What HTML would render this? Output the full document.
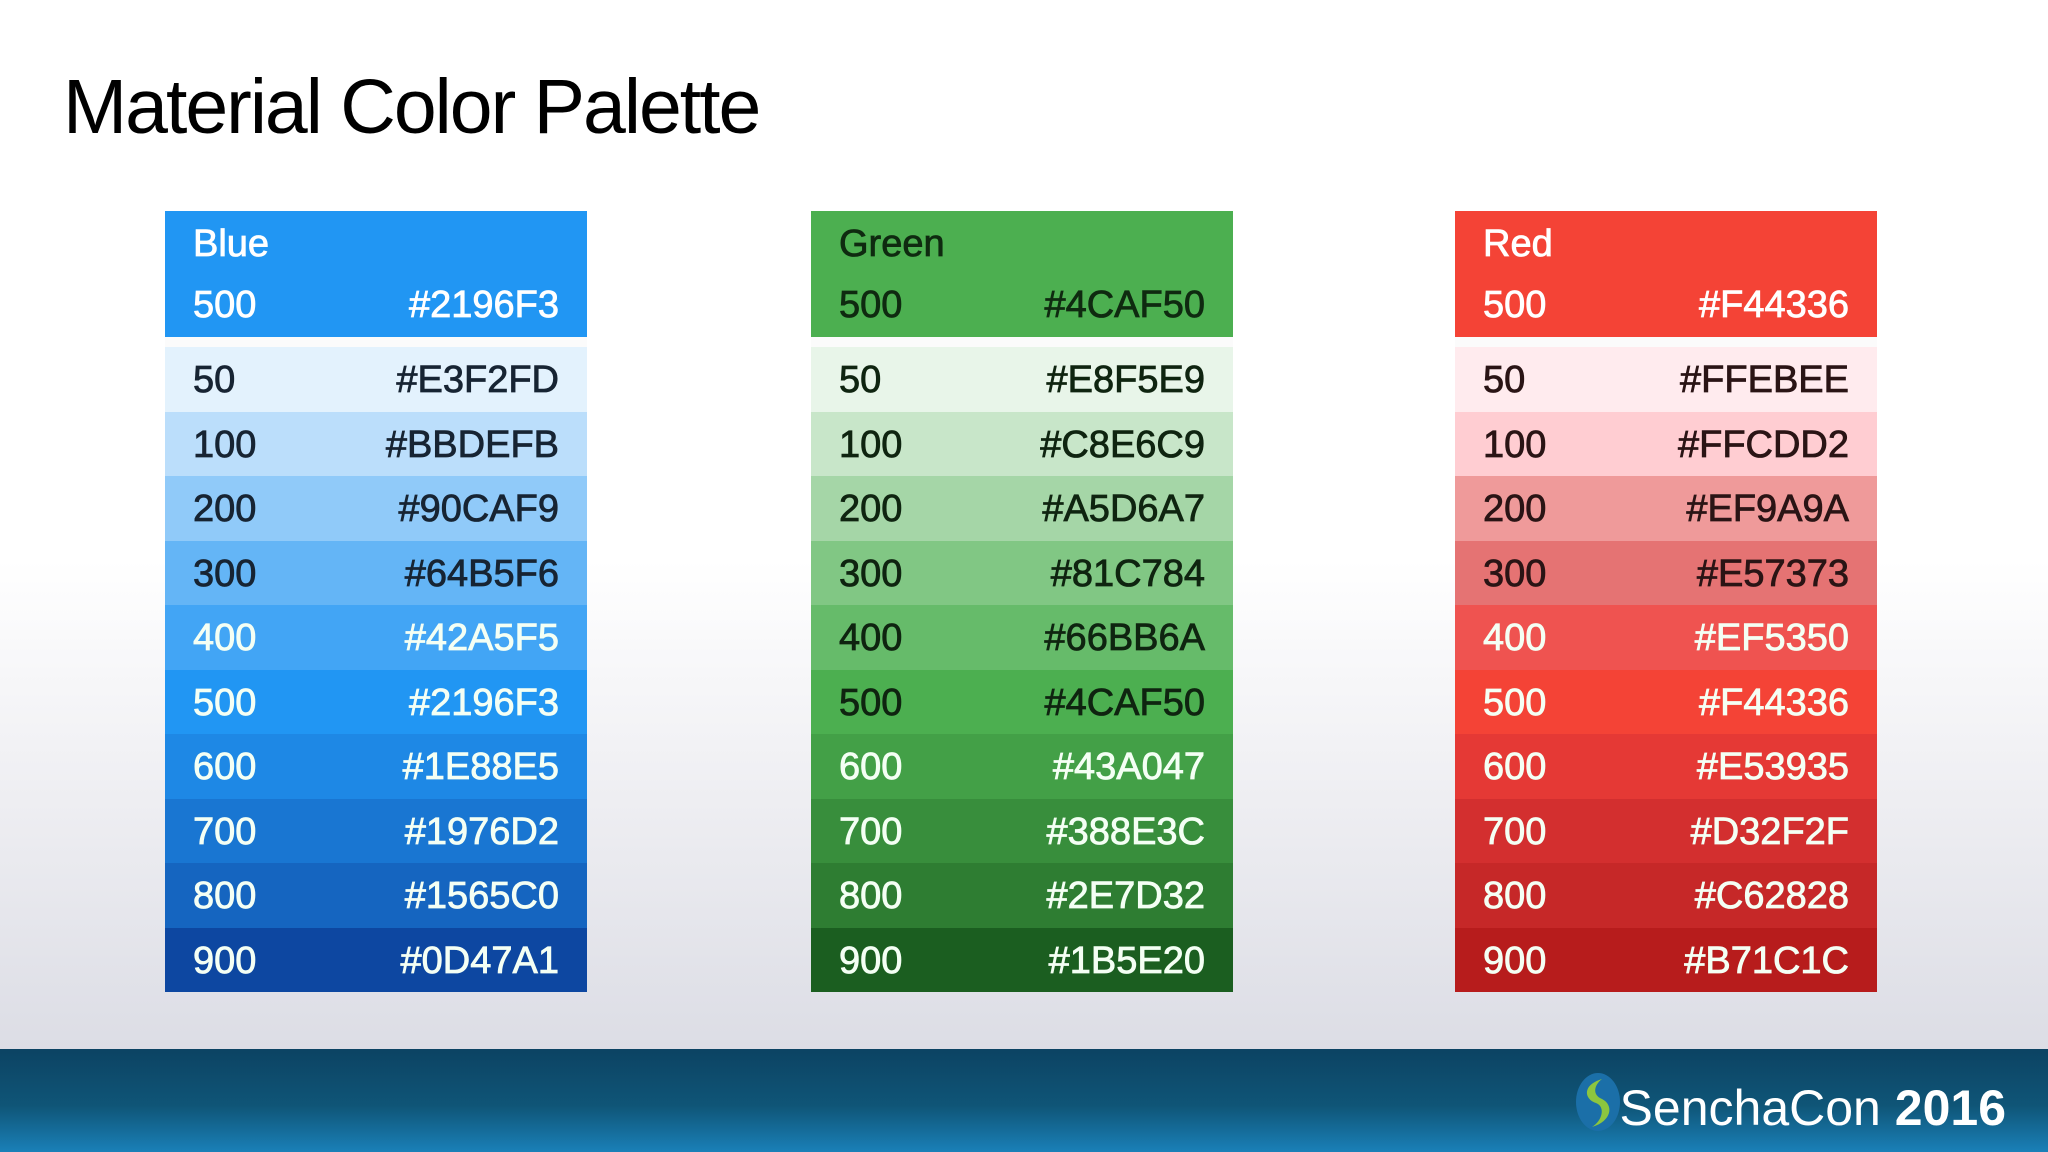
<!DOCTYPE html>
<html><head><meta charset="utf-8">
<style>
html,body{margin:0;padding:0;}
body{width:2048px;height:1152px;position:relative;overflow:hidden;
background:linear-gradient(180deg,#ffffff 0px,#ffffff 560px,#eeeef2 800px,#dcdde5 1049px);
font-family:"Liberation Sans",sans-serif;}
#title{position:absolute;left:63px;top:63px;font-size:77px;color:#000;letter-spacing:-2px;white-space:nowrap;}
.panel{position:absolute;top:211px;width:422px;}
.hdr{height:126px;position:relative;}
.gap{height:10px;background:#fbfbfb;}
.row{height:64.5px;position:relative;}
.t{position:absolute;font-size:38px;white-space:nowrap;-webkit-text-stroke:0.8px currentColor;}
.l{left:28px;}
.r{right:28px;}
#footer{position:absolute;left:0;top:1049px;width:2048px;height:103px;
background:linear-gradient(180deg,#0c4363 0%,#0f5577 55%,#1a80b8 100%);}
#brand{position:absolute;right:42px;top:30px;font-size:50px;color:#fff;white-space:nowrap;}
#logo{position:absolute;left:1572px;top:22px;}
</style></head>
<body>
<div id="title">Material Color Palette</div>
<div id="panels"></div>
<div id="footer">
<svg id="logo" width="52" height="62"><ellipse cx="26" cy="31" rx="22" ry="29" fill="#1b6fa8"/><path d="M30 8 C10 14 12 28 24 32 C34 36 30 50 20 56 C40 50 42 34 30 28 C20 24 22 14 30 8Z" fill="#8cc63f"/></svg>
<div id="brand"><span style="font-weight:300">SenchaCon</span> <b>2016</b></div>
</div>
<script>
const shades=["50","100","200","300","400","500","600","700","800","900"];
const blueHex=["#E3F2FD","#BBDEFB","#90CAF9","#64B5F6","#42A5F5","#2196F3","#1E88E5","#1976D2","#1565C0","#0D47A1"];
const greenHex=["#E8F5E9","#C8E6C9","#A5D6A7","#81C784","#66BB6A","#4CAF50","#43A047","#388E3C","#2E7D32","#1B5E20"];
const redHex=["#FFEBEE","#FFCDD2","#EF9A9A","#E57373","#EF5350","#F44336","#E53935","#D32F2F","#C62828","#B71C1C"];
const blueDarkUntil=4, greenDarkUntil=6, redDarkUntil=4;
const panels=[
 {name:"Blue",hex:blueHex,dark:blueDarkUntil,left:165,hdrText:"#fff",darkText:"#172433"},
 {name:"Green",hex:greenHex,dark:greenDarkUntil,left:811,hdrText:"#0f2a10",darkText:"#0f2410"},
 {name:"Red",hex:redHex,dark:redDarkUntil,left:1455,hdrText:"#fff",darkText:"#2a1415"}
];
const root=document.getElementById('panels');
panels.forEach(p=>{
 const pn=document.createElement('div');
 pn.className='panel';pn.style.left=p.left+'px';
 
 
 const h=document.createElement('div');h.className='hdr';h.style.background=p.hex[5];
 
 
 h.innerHTML='<div class="t l" style="top:12px;color:'+p.hdrText+'">'+p.name+'</div>'+
  '<div class="t l" style="top:73px;color:'+p.hdrText+'">500</div>'+
  '<div class="t r" style="top:73px;color:'+p.hdrText+'">'+p.hex[5]+'</div>';
 pn.appendChild(h);
 const g=document.createElement('div');g.className='gap';pn.appendChild(g);
 shades.forEach((s,i)=>{
  const r=document.createElement('div');r.className='row';r.style.background=p.hex[i];
  
  
  const c=i<p.dark?p.darkText:'#f4fff4';
  r.innerHTML='<div class="t l" style="top:12px;color:'+c+'">'+s+'</div><div class="t r" style="top:12px;color:'+c+'">'+p.hex[i]+'</div>';
  pn.appendChild(r);
 });
 root.appendChild(pn);
});
</script>
</body></html>
